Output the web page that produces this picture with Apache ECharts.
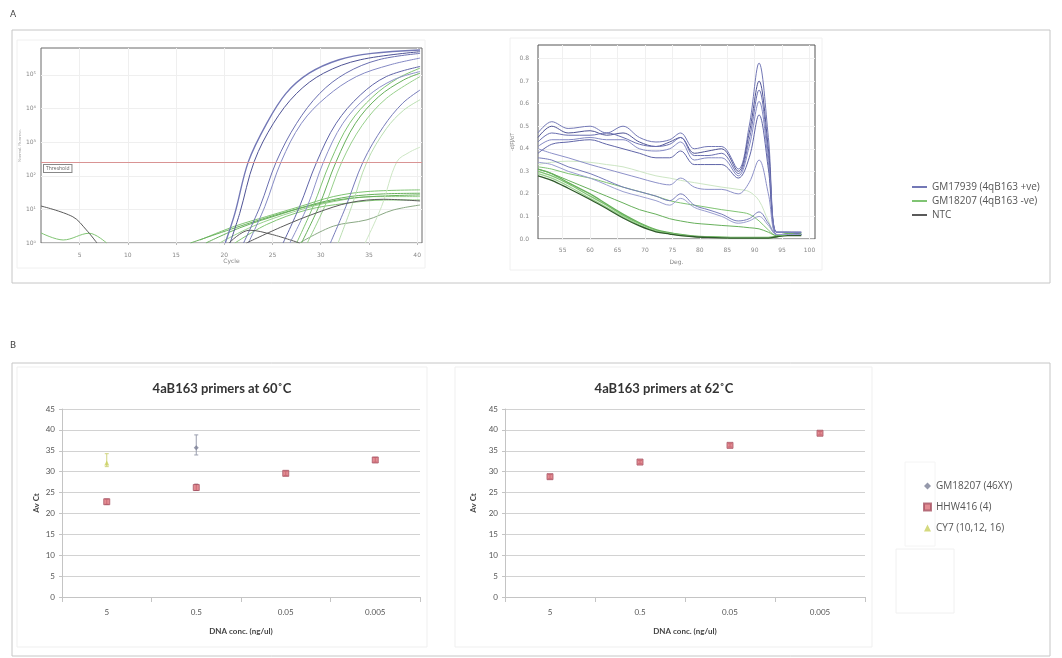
<!DOCTYPE html>
<html>
<head>
<meta charset="utf-8">
<script src="https://cdn.jsdelivr.net/npm/echarts@6/dist/echarts.min.js"></script>
<style>
html, body { margin: 0; padding: 0; background: #fff; }
#chart { width: 1062px; height: 658px; }
</style>
</head>
<body>
<div id="chart"></div>
<script>
const chartDom = document.querySelector('#chart')
let figure = echarts.init(chartDom)

// ---- panel A: amplification (cycle vs log fluorescence) ----
const ampCycleTicks = [5, 10, 15, 20, 25, 30, 35, 40]
const ampLogTicks = [0, 1, 2, 3, 4, 5]
const thresholdLevel = 2.41

const ampBlue = [
    [[20.1, 0], [21.1, 0.88], [22.5, 2.42], [24.4, 3.56], [26.4, 4.45], [28.8, 5.05], [31.9, 5.45], [35.3, 5.64], [40.3, 5.74]],
    [[20.6, 0], [21.6, 0.88], [23.1, 2.42], [25.1, 3.56], [27.5, 4.45], [30.3, 5.05], [34.1, 5.45], [40.3, 5.69]],
    [[22.0, 0], [23.7, 1.08], [25.4, 2.42], [27.5, 3.56], [29.9, 4.45], [32.6, 5.05], [36.0, 5.45], [40.3, 5.64]],
    [[22.5, 0], [24.2, 1.08], [25.9, 2.42], [28.0, 3.56], [30.6, 4.35], [33.7, 4.95], [37.2, 5.3], [40.3, 5.5]],
    [[26.1, 0], [27.8, 1.08], [29.6, 2.42], [31.6, 3.56], [34.1, 4.4], [36.8, 4.95], [40.3, 5.25]],
    [[26.8, 0], [28.6, 1.08], [30.3, 2.42], [32.3, 3.56], [34.8, 4.35], [37.5, 4.85], [40.3, 5.1]],
    [[31.0, 0], [32.6, 1.08], [34.4, 2.42], [36.5, 3.46], [38.5, 4.16], [40.3, 4.55]]
]
const ampGreen = [
    [[27.5, 0], [29.2, 1.08], [31.0, 2.42], [33.0, 3.56], [35.4, 4.35], [38.0, 4.9], [40.3, 5.2]],
    [[28.0, 0], [29.8, 1.08], [31.6, 2.42], [33.6, 3.56], [36.0, 4.35], [38.6, 4.85], [40.3, 5.05]],
    [[28.6, 0], [30.4, 1.08], [32.2, 2.42], [34.3, 3.5], [36.8, 4.3], [40.3, 4.95]],
    [[31.8, 0], [33.2, 1.08], [34.8, 2.42], [36.8, 3.4], [38.6, 3.95], [40.3, 4.26]],
    [[34.6, 0], [36.3, 1.08], [37.9, 2.42], [39.2, 2.7], [40.3, 2.85]]
]
const ampGreenLow = [
    [[17.5, 0.09], [21.1, 0.5], [24.4, 0.79], [27.8, 1.08], [31.3, 1.38], [34.8, 1.53], [40.3, 1.58]],
    [[18.1, 0], [21.6, 0.45], [26.1, 0.88], [29.6, 1.18], [33.0, 1.38], [36.5, 1.46], [40.3, 1.48]],
    [[19.5, 0], [23.0, 0.5], [27.2, 0.93], [31.3, 1.23], [35.5, 1.38], [40.3, 1.38]],
    [[21.1, 0], [24.4, 0.55], [28.5, 0.98], [32.6, 1.18], [36.8, 1.28], [40.3, 1.28]],
    [[16.5, 0], [22.6, 0.59], [27.8, 1.03], [33.0, 1.33], [40.3, 1.43]],
    [[27.8, 0], [31.3, 0.5], [34.8, 0.69], [37.5, 0.98], [40.3, 1.13]],
    [[1, 0.3], [3.3, 0.09], [6.0, 0.29], [7.8, 0]]
]
const ampNtc = [
    [[1, 1.1], [4.3, 0.78], [5.7, 0.39], [6.8, 0]],
    [[20.5, 0], [22.6, 0.38], [25.0, 0.25], [27.8, 0]],
    [[22.3, 0], [26.1, 0.5], [29.6, 0.9], [33.0, 1.2], [36.5, 1.3], [40.3, 1.25]]
]

// ---- panel A: melt curves (temperature vs -dF/dT) ----
const meltTicks = [55, 60, 65, 70, 75, 80, 85, 90, 95, 100]
const meltYTicks = [0, 0.1, 0.2, 0.3, 0.4, 0.5, 0.6, 0.7, 0.8]
const meltTemps = [50.5, 53, 56, 60, 63, 66, 69, 72, 74.5, 76.5, 79, 81.5, 84, 87, 89, 90.8, 92.5, 94, 96, 98.5]
const meltBlue = [
    [0.47, 0.52, 0.49, 0.50, 0.47, 0.50, 0.45, 0.43, 0.44, 0.47, 0.40, 0.41, 0.41, 0.31, 0.50, 0.78, 0.45, 0.03, 0.03, 0.03],
    [0.45, 0.50, 0.47, 0.48, 0.46, 0.47, 0.43, 0.41, 0.43, 0.45, 0.38, 0.39, 0.40, 0.30, 0.47, 0.70, 0.40, 0.03, 0.03, 0.03],
    [0.43, 0.47, 0.46, 0.46, 0.47, 0.45, 0.42, 0.41, 0.42, 0.45, 0.37, 0.37, 0.38, 0.29, 0.44, 0.66, 0.37, 0.03, 0.03, 0.02],
    [0.41, 0.44, 0.44, 0.45, 0.44, 0.44, 0.40, 0.39, 0.40, 0.43, 0.35, 0.36, 0.36, 0.28, 0.41, 0.61, 0.34, 0.03, 0.03, 0.03],
    [0.38, 0.42, 0.43, 0.44, 0.42, 0.40, 0.38, 0.36, 0.36, 0.39, 0.33, 0.33, 0.33, 0.27, 0.36, 0.55, 0.31, 0.02, 0.02, 0.02],
    [0.40, 0.38, 0.36, 0.33, 0.31, 0.29, 0.27, 0.25, 0.24, 0.27, 0.23, 0.22, 0.22, 0.20, 0.25, 0.35, 0.20, 0.02, 0.02, 0.02],
    [0.36, 0.35, 0.32, 0.29, 0.26, 0.23, 0.21, 0.19, 0.17, 0.20, 0.15, 0.13, 0.11, 0.08, 0.09, 0.12, 0.07, 0.02, 0.02, 0.02],
    [0.34, 0.33, 0.30, 0.27, 0.24, 0.21, 0.19, 0.17, 0.15, 0.18, 0.14, 0.12, 0.10, 0.07, 0.08, 0.10, 0.06, 0.02, 0.02, 0.02]
]
const meltGreen = [
    [0.30, 0.28, 0.245, 0.19, 0.15, 0.105, 0.068, 0.038, 0.026, 0.018, 0.012, 0.009, 0.007, 0.006, 0.006, 0.006, 0.006, 0.01, 0.02, 0.02],
    [0.31, 0.29, 0.25, 0.20, 0.155, 0.11, 0.072, 0.042, 0.028, 0.02, 0.013, 0.01, 0.008, 0.007, 0.007, 0.007, 0.007, 0.012, 0.025, 0.025],
    [0.29, 0.27, 0.235, 0.18, 0.14, 0.098, 0.062, 0.035, 0.024, 0.016, 0.011, 0.008, 0.006, 0.005, 0.005, 0.005, 0.005, 0.01, 0.02, 0.02],
    [0.28, 0.26, 0.225, 0.175, 0.135, 0.093, 0.058, 0.032, 0.022, 0.015, 0.01, 0.007, 0.005, 0.004, 0.004, 0.004, 0.004, 0.01, 0.015, 0.015],
    [0.33, 0.34, 0.345, 0.34, 0.33, 0.32, 0.30, 0.28, 0.27, 0.26, 0.25, 0.24, 0.23, 0.22, 0.21, 0.17, 0.08, 0.02, 0.02, 0.02],
    [0.32, 0.31, 0.29, 0.27, 0.25, 0.23, 0.21, 0.19, 0.17, 0.16, 0.15, 0.14, 0.13, 0.12, 0.11, 0.08, 0.04, 0.015, 0.02, 0.02],
    [0.31, 0.29, 0.26, 0.22, 0.19, 0.16, 0.13, 0.11, 0.09, 0.08, 0.07, 0.065, 0.06, 0.055, 0.05, 0.045, 0.03, 0.015, 0.02, 0.02]
]

// ---- panel B: average Ct by DNA concentration ----
const dnaConc = ['5', '0.5', '0.05', '0.005']
const hhw416At60 = [22.8, 26.2, 29.6, 32.8]
const gm18207At60 = [null, 35.7, null, null]
const cy7At60 = [32.1, null, null, null]
const hhw416ErrAt60 = [[0, 22.2, 23.4], [1, 25.5, 27.0], [2, 29.1, 30.1], [3, 32.3, 33.4]]
const gm18207ErrAt60 = [[1, 34.0, 38.8]]
const cy7ErrAt60 = [[0, 31.2, 34.3]]
const hhw416At62 = [28.8, 32.3, 36.3, 39.2]
const hhw416ErrAt62 = [[0, 28.3, 29.3], [1, 31.9, 32.7], [2, 35.9, 36.7], [3, 38.8, 39.6]]

const nameBlue = 'GM17939 (4qB163 +ve)'
const nameGreen = 'GM18207 (4qB163 -ve)'
const nameNtc = 'NTC'
const blueShades = ['#7378b6', '#4f5395', '#6a6fb0', '#8489c4', '#6065a8', '#8d91c9', '#777cba', '#9a9ed0']
const greenShades = ['#80c473', '#67b05b', '#98d08c', '#b9deb0', '#cde6c4']
const sup = ['\u2070', '\u00b9', '\u00b2', '\u00b3', '\u2074', '\u2075']

function lineSeries(name, data, color, grid, width) {
    return {
        name: name,
        type: 'line',
        xAxisIndex: grid,
        yAxisIndex: grid,
        data: data,
        symbol: 'none',
        smooth: 0.35,
        silent: true,
        lineStyle: { color: color, width: width || 1 },
        itemStyle: { color: color }
    }
}

function toPairs(values) {
    return meltTemps.map((t, i) => [t, values[i]])
}

function toCat(values) {
    return values.map(v => v === null ? '-' : v)
}

function errorBars(name, data, color, grid) {
    return {
        name: name,
        type: 'custom',
        xAxisIndex: grid,
        yAxisIndex: grid,
        silent: true,
        z: 1,
        data: data,
        renderItem: function (params, api) {
            let top = api.coord([api.value(0), api.value(2)])
            let bot = api.coord([api.value(0), api.value(1)])
            let st = { stroke: color, lineWidth: 1 }
            return {
                type: 'group',
                children: [
                    { type: 'line', shape: { x1: top[0], y1: top[1], x2: bot[0], y2: bot[1] }, style: st },
                    { type: 'line', shape: { x1: top[0] - 2, y1: top[1], x2: top[0] + 2, y2: top[1] }, style: st },
                    { type: 'line', shape: { x1: bot[0] - 2, y1: bot[1], x2: bot[0] + 2, y2: bot[1] }, style: st }
                ]
            }
        }
    }
}

let series = []

// amplification plot
ampGreenLow.forEach((c, i) => series.push(lineSeries(nameGreen, c, i === 5 ? '#8aa884' : greenShades[i % 3], 0)))
ampGreen.forEach((c, i) => series.push(lineSeries(nameGreen, c, greenShades[i], 0)))
ampBlue.forEach((c, i) => series.push(lineSeries(nameBlue, c, blueShades[i], 0, i === 0 ? 1.4 : 1)))
ampNtc.forEach(c => series.push(lineSeries(nameNtc, c, '#5a5a5a', 0)))
series[0].markLine = {
    silent: true,
    symbol: 'none',
    animation: false,
    lineStyle: { color: '#d99494', width: 1, type: 'solid' },
    label: {
        show: true,
        position: 'insideStartBottom',
        formatter: 'Threshold',
        fontSize: 5,
        color: '#666',
        backgroundColor: '#fff',
        borderColor: '#888',
        borderWidth: 1,
        padding: [1, 2],
        distance: 3
    },
    data: [{ yAxis: thresholdLevel }]
}

// melt plot
meltGreen.forEach((c, i) => series.push(lineSeries(nameGreen, toPairs(c), i === 3 ? '#2f5a2a' : greenShades[i % 5], 1, i < 4 ? 1.3 : 1)))
meltBlue.forEach((c, i) => series.push(lineSeries(nameBlue, toPairs(c), blueShades[i], 1)))

// panel B, 60C
series.push(errorBars('err1', gm18207ErrAt60, '#9a9fae', 2))
series.push(errorBars('err2', cy7ErrAt60, '#d0d480', 2))
series.push(errorBars('err3', hhw416ErrAt60, '#8a5a6a', 2))
series.push({
    name: 'GM18207 (46XY)', type: 'scatter', xAxisIndex: 2, yAxisIndex: 2,
    data: toCat(gm18207At60), symbol: 'diamond', symbolSize: 5,
    itemStyle: { color: '#7a8096' }, z: 3
})
series.push({
    name: 'HHW416 (4)', type: 'scatter', xAxisIndex: 2, yAxisIndex: 2,
    data: toCat(hhw416At60), symbol: 'rect', symbolSize: 6,
    itemStyle: { color: '#dc6f78', borderColor: '#a85565', borderWidth: 1 }, z: 2
})
series.push({
    name: 'CY7 (10,12, 16)', type: 'scatter', xAxisIndex: 2, yAxisIndex: 2,
    data: toCat(cy7At60), symbol: 'triangle', symbolSize: 5,
    itemStyle: { color: '#c9cf5e' }, z: 3
})
// panel B, 62C
series.push(errorBars('err4', hhw416ErrAt62, '#8a5a6a', 3))
series.push({
    name: 'HHW416 (4)', type: 'scatter', xAxisIndex: 3, yAxisIndex: 3,
    data: toCat(hhw416At62), symbol: 'rect', symbolSize: 6,
    itemStyle: { color: '#dc6f78', borderColor: '#a85565', borderWidth: 1 }, z: 2
})

const tinyLabel = { fontSize: 6, color: '#888', fontFamily: 'DejaVu Sans' }
const bLabel = { fontSize: 8, color: '#555', fontFamily: 'Lato' }
const bName = { fontSize: 8, color: '#444', fontWeight: 'bold', fontFamily: 'Lato' }

function bXAxis(grid) {
    return {
        gridIndex: grid, type: 'category', data: dnaConc,
        name: 'DNA conc. (ng/ul)', nameLocation: 'middle', nameGap: 30, nameTextStyle: bName,
        axisLine: { lineStyle: { color: '#c4c4c4' } },
        axisTick: { show: true, lineStyle: { color: '#c4c4c4' } },
        axisLabel: Object.assign({ margin: 11 }, bLabel),
        splitLine: { show: false }
    }
}
function bYAxis(grid, gap) {
    return {
        gridIndex: grid, type: 'value', min: 0, max: 45, interval: 5,
        name: 'Av Ct', nameLocation: 'middle', nameRotate: 90, nameGap: gap, nameTextStyle: bName,
        axisLine: { show: true, lineStyle: { color: '#c4c4c4' } },
        axisTick: { show: true, length: 3, lineStyle: { color: '#c4c4c4' } },
        axisLabel: Object.assign({ margin: 7 }, bLabel),
        splitLine: { lineStyle: { color: '#d2d2d2' } }
    }
}

let option = {
    backgroundColor: '#fff',
    animation: false,
    textStyle: { fontFamily: 'Open Sans' },
    grid: [
        { left: 41, top: 48, width: 381, height: 195, show: true, borderColor: '#6a6a6a', borderWidth: 1 },
        { left: 538, top: 45, width: 277, height: 194, show: true, borderColor: '#555', borderWidth: 1 },
        { left: 62, top: 409, width: 358, height: 188 },
        { left: 505, top: 409, width: 360, height: 188 }
    ],
    xAxis: [
        {
            gridIndex: 0, type: 'value', min: 1, max: 40.5,
            name: 'Cycle', nameLocation: 'middle', nameGap: 14, nameTextStyle: tinyLabel,
            axisLine: { show: false },
            axisTick: { show: true, customValues: ampCycleTicks, length: 2, lineStyle: { color: '#bbb' } },
            axisLabel: Object.assign({ customValues: ampCycleTicks, margin: 9 }, tinyLabel),
            splitLine: { show: true, lineStyle: { color: '#efefef' } }
        },
        {
            gridIndex: 1, type: 'value', min: 50.5, max: 101,
            name: 'Deg.', nameLocation: 'middle', nameGap: 20, nameTextStyle: tinyLabel,
            axisLine: { show: false },
            axisTick: { show: false, customValues: meltTicks },
            axisLabel: Object.assign({ customValues: meltTicks, margin: 8 }, tinyLabel),
            splitLine: { show: true, lineStyle: { color: '#f0f0f0' } }
        },
        bXAxis(2),
        bXAxis(3)
    ],
    yAxis: [
        {
            gridIndex: 0, type: 'value', min: 0, max: 5.8,
            name: 'Normal. Fluoresc.', nameLocation: 'middle', nameRotate: 90, nameGap: 18,
            nameTextStyle: { fontSize: 4, color: '#999' },
            axisLine: { show: false },
            axisTick: { show: false, customValues: ampLogTicks },
            axisLabel: Object.assign({ customValues: ampLogTicks, margin: 5, formatter: v => '10' + sup[v] }, tinyLabel),
            splitLine: { show: true, lineStyle: { color: '#efefef' } }
        },
        {
            gridIndex: 1, type: 'value', min: 0, max: 0.86,
            name: '-d(F)/dT', nameLocation: 'middle', nameRotate: 90, nameGap: 16,
            nameTextStyle: { fontSize: 5, color: '#777' },
            axisLine: { show: false },
            axisTick: { show: false, customValues: meltYTicks },
            axisLabel: Object.assign({ customValues: meltYTicks, margin: 9, formatter: v => v.toFixed(1) }, tinyLabel),
            splitLine: { show: true, lineStyle: { color: '#f0f0f0' } }
        },
        bYAxis(2, 22),
        bYAxis(3, 28)
    ],
    legend: [
        {
            orient: 'vertical', left: 907, top: 177, itemGap: 4,
            itemWidth: 15, itemHeight: 2, icon: 'rect',
            textStyle: { fontSize: 10, color: '#555', fontFamily: 'Open Sans' },
            data: [nameBlue, nameGreen, nameNtc]
        },
        {
            orient: 'vertical', left: 918, top: 476, itemGap: 11,
            itemWidth: 7, itemHeight: 7,
            textStyle: { fontSize: 10, color: '#555', fontFamily: 'Open Sans' },
            data: [
                { name: 'GM18207 (46XY)', icon: 'diamond', itemStyle: { color: '#7a8096' } },
                { name: 'HHW416 (4)', icon: 'rect', itemStyle: { color: '#dc6f78' } },
                { name: 'CY7 (10,12, 16)', icon: 'triangle', itemStyle: { color: '#c9cf5e' } }
            ]
        }
    ],
    graphic: [
        { type: 'text', left: 10, top: 10, style: { text: 'A', fontSize: 9, fill: '#444', fontFamily: 'DejaVu Sans' } },
        { type: 'text', left: 10, top: 341, style: { text: 'B', fontSize: 9, fill: '#444', fontFamily: 'DejaVu Sans' } },
        { type: 'rect', shape: { x: 12, y: 30, width: 1038, height: 253 }, style: { fill: 'none', stroke: '#c6c6c6', lineWidth: 1 }, silent: true, z: -10 },
        { type: 'rect', shape: { x: 12, y: 363, width: 1038, height: 293 }, style: { fill: 'none', stroke: '#c6c6c6', lineWidth: 1 }, silent: true, z: -10 },
        { type: 'rect', shape: { x: 17, y: 40, width: 408, height: 228 }, style: { fill: 'none', stroke: '#f0f0f0', lineWidth: 1 }, silent: true, z: -10 },
        { type: 'rect', shape: { x: 510, y: 38, width: 312, height: 232 }, style: { fill: 'none', stroke: '#f0f0f0', lineWidth: 1 }, silent: true, z: -10 },
        { type: 'rect', shape: { x: 17, y: 367, width: 410, height: 280 }, style: { fill: 'none', stroke: '#efefef', lineWidth: 1 }, silent: true, z: -10 },
        { type: 'rect', shape: { x: 455, y: 367, width: 417, height: 280 }, style: { fill: 'none', stroke: '#efefef', lineWidth: 1 }, silent: true, z: -10 },
        { type: 'rect', shape: { x: 905, y: 462, width: 30, height: 84 }, style: { fill: 'none', stroke: '#f4f4f4', lineWidth: 1 }, silent: true, z: -10 },
        { type: 'rect', shape: { x: 896, y: 549, width: 58, height: 64 }, style: { fill: 'none', stroke: '#f0f0f0', lineWidth: 1 }, silent: true, z: -10 },
        { type: 'text', x: 222, y: 382, style: { text: '4aB163 primers at 60\u02daC', fontSize: 13, fontWeight: 'bold', fill: '#333', fontFamily: 'Lato', textAlign: 'center' } },
        { type: 'text', x: 664, y: 382, style: { text: '4aB163 primers at 62\u02daC', fontSize: 13, fontWeight: 'bold', fill: '#333', fontFamily: 'Lato', textAlign: 'center' } }
    ],
    series: series
}

figure.setOption(option)
</script>
</body>
</html>
